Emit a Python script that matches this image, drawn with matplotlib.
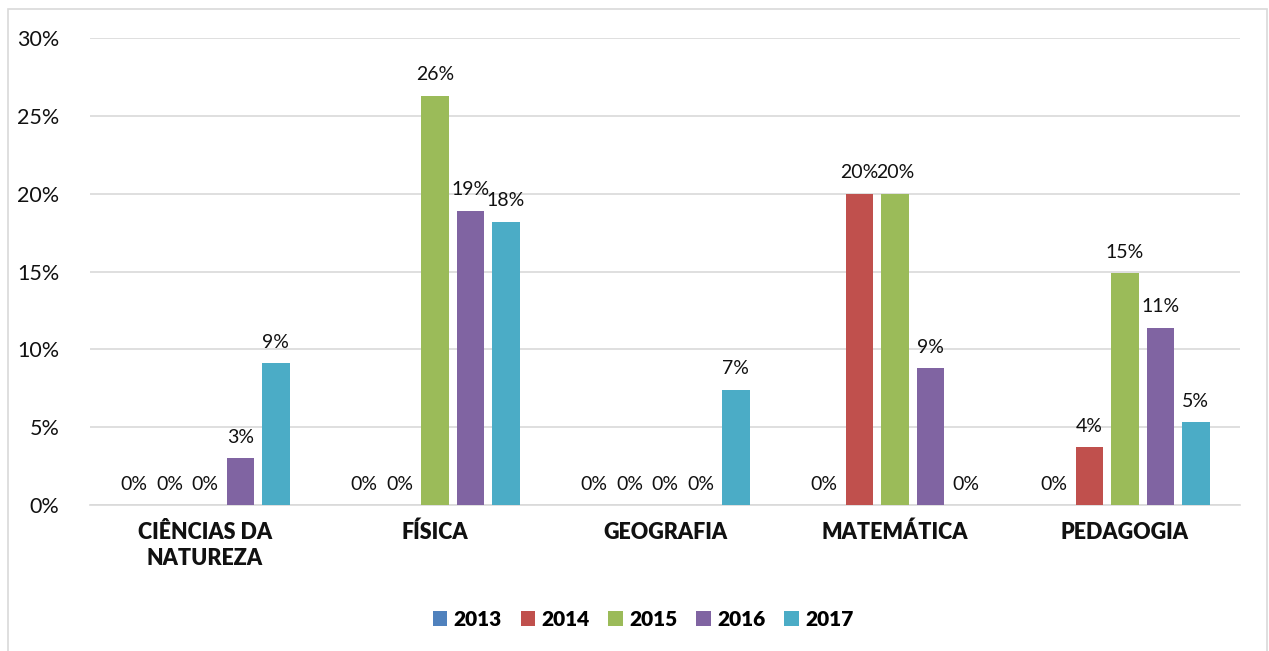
import matplotlib

matplotlib.use("Agg")
import matplotlib.pyplot as plt
import numpy as np
from matplotlib.patches import Rectangle

plt.rcParams["font.family"] = ["Lato", "DejaVu Sans"]

categories = ["CIÊNCIAS DA\nNATUREZA", "FÍSICA", "GEOGRAFIA", "MATEMÁTICA", "PEDAGOGIA"]
years = ["2013", "2014", "2015", "2016", "2017"]
colors = ["#4F81BD", "#C0504D", "#9BBB59", "#8064A2", "#4BACC6"]

# percent values per year, one entry per category
v2013 = [0.0, 0.0, 0.0, 0.0, 0.0]
v2014 = [0.0, 0.0, 0.0, 20.0, 3.7]
v2015 = [0.0, 26.3, 0.0, 20.0, 14.9]
v2016 = [3.0, 18.9, 0.0, 8.8, 11.4]
v2017 = [9.1, 18.2, 7.4, 0.0, 5.3]
series = [v2013, v2014, v2015, v2016, v2017]

fig = plt.figure(figsize=(12.69, 6.51), dpi=100)
ax = fig.add_axes([90 / 1269, 146 / 651, 1150 / 1269, 467 / 651])

x = np.arange(len(categories))
step = 0.154
width = 0.12
for i, (vals, year, col) in enumerate(zip(series, years, colors)):
    pos = x + (i - 2) * step
    bars = ax.bar(pos, vals, width, color=col, label=year, zorder=3)
    for b, v in zip(bars, vals):
        ax.text(b.get_x() + b.get_width() / 2, v + 0.8, f"{v:.0f}%",
                ha="center", va="bottom", fontsize=14, color="#111111")

ax.set_xlim(-0.5, len(categories) - 0.5)
ax.set_ylim(0, 30)
ax.set_yticks(range(0, 31, 5))
ax.set_yticklabels([f"{t}%" for t in range(0, 31, 5)], fontsize=15.5, color="#111111")
ax.set_xticks(x)
ax.set_xticklabels(categories, fontsize=15.5, fontweight="heavy", linespacing=1.3,
                   color="#111111")
ax.tick_params(axis="y", length=0, pad=22)
ax.tick_params(axis="x", length=0, pad=12)
ax.grid(axis="y", color="#D9D9D9", linewidth=1.2, zorder=0)
for s in ["top", "right", "left"]:
    ax.spines[s].set_visible(False)
ax.spines["bottom"].set_color("#D9D9D9")
ax.spines["bottom"].set_linewidth(1.2)

ax.legend(loc="center", bbox_to_anchor=((643 - 90) / 1150, (651 - 619 - 146) / 467), ncol=5,
          frameon=False, handlelength=0.7, handleheight=0.7, handletextpad=0.3,
          columnspacing=0.9, prop={"weight": "heavy", "size": 15})

fig.patches.append(Rectangle((8 / 1269, -0.01), 1259 / 1269, 642 / 651 + 0.01,
                             transform=fig.transFigure, fill=False,
                             edgecolor="#D9D9D9", linewidth=1.2))

fig.savefig("out.png", dpi=100)
plt.close(fig)
